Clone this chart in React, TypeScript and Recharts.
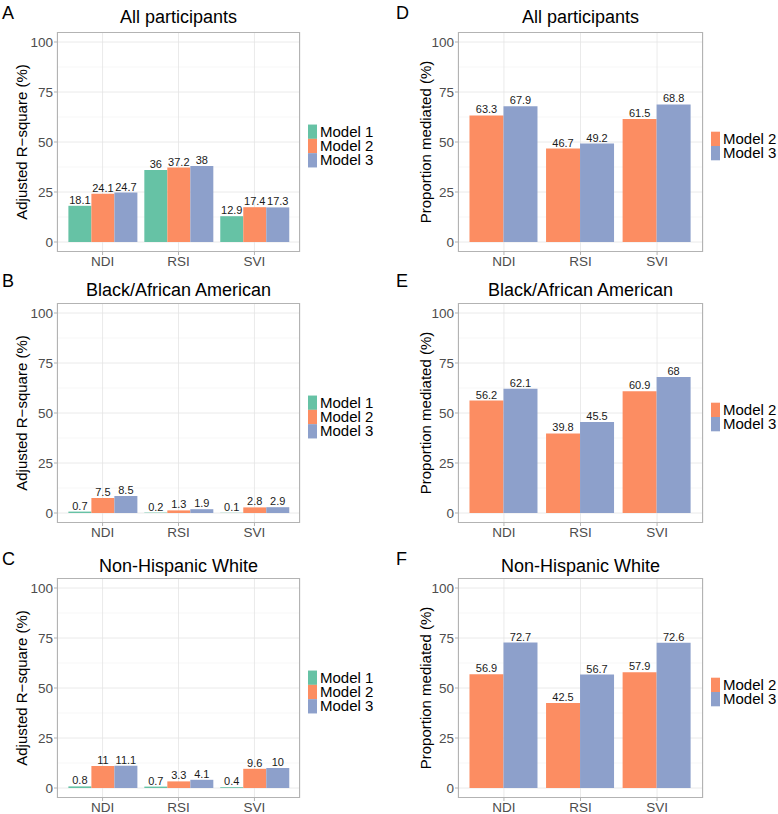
import React from 'react';
import { BarChart, Bar, XAxis, YAxis, CartesianGrid, LabelList } from 'recharts';

const categories = ['NDI', 'RSI', 'SVI'];

// Adjusted R-square (%)
const allModel1 = [18.1, 36, 12.9];
const allModel2 = [24.1, 37.2, 17.4];
const allModel3 = [24.7, 38, 17.3];

const blackModel1 = [0.7, 0.2, 0.1];
const blackModel2 = [7.5, 1.3, 2.8];
const blackModel3 = [8.5, 1.9, 2.9];

const whiteModel1 = [0.8, 0.7, 0.4];
const whiteModel2 = [11, 3.3, 9.6];
const whiteModel3 = [11.1, 4.1, 10];

// Proportion mediated (%)
const allMedModel2 = [63.3, 46.7, 61.5];
const allMedModel3 = [67.9, 49.2, 68.8];

const blackMedModel2 = [56.2, 39.8, 60.9];
const blackMedModel3 = [62.1, 45.5, 68];

const whiteMedModel2 = [56.9, 42.5, 57.9];
const whiteMedModel3 = [72.7, 56.7, 72.6];

const majorTicks = [0, 25, 50, 75, 100];
const minorTicks = [12.5, 37.5, 62.5, 87.5];

const models = [
  { key: 'm1', name: 'Model 1', color: '#66C2A5' },
  { key: 'm2', name: 'Model 2', color: '#FC8D62' },
  { key: 'm3', name: 'Model 3', color: '#8DA0CB' },
];

const FONT = '"Liberation Sans", Arial, Helvetica, sans-serif';
const PLOT_H = 220;
const PANEL_W = 389;

const makeRows = (m1: number[] | null, m2: number[], m3: number[]) =>
  categories.map((cat, i) => ({
    cat,
    ...(m1 ? { m1: m1[i] } : {}),
    m2: m2[i],
    m3: m3[i],
  }));

const columns = [
  { left: 0, axisWidth: 57, rightMargin: 89, labelOffset: 22, letterX: 2, yLabel: 'Adjusted R\u2212square (%)' },
  { left: 389, axisWidth: 69, rightMargin: 75, labelOffset: 37, letterX: 396, yLabel: 'Proportion mediated (%)' },
];

const rowsLayout = [
  { top: 0, height: 270, titleY: 23, letterY: 19 },
  { top: 271, height: 271, titleY: 296, letterY: 287 },
  { top: 546, height: 268, titleY: 572, letterY: 565 },
];

const panels = [
  { col: 0, row: 0, letter: 'A', title: 'All participants', data: makeRows(allModel1, allModel2, allModel3), keys: ['m1', 'm2', 'm3'] },
  { col: 0, row: 1, letter: 'B', title: 'Black/African American', data: makeRows(blackModel1, blackModel2, blackModel3), keys: ['m1', 'm2', 'm3'] },
  { col: 0, row: 2, letter: 'C', title: 'Non-Hispanic White', data: makeRows(whiteModel1, whiteModel2, whiteModel3), keys: ['m1', 'm2', 'm3'] },
  { col: 1, row: 0, letter: 'D', title: 'All participants', data: makeRows(null, allMedModel2, allMedModel3), keys: ['m2', 'm3'] },
  { col: 1, row: 1, letter: 'E', title: 'Black/African American', data: makeRows(null, blackMedModel2, blackMedModel3), keys: ['m2', 'm3'] },
  { col: 1, row: 2, letter: 'F', title: 'Non-Hispanic White', data: makeRows(null, whiteMedModel2, whiteMedModel3), keys: ['m2', 'm3'] },
];

const Panel = ({ panel }: { panel: typeof panels[number] }) => {
  const col = columns[panel.col];
  const row = rowsLayout[panel.row];
  const plotW = PANEL_W - col.axisWidth - col.rightMargin;
  const pad = (plotW * 0.1) / 3.2;
  return (
    <div style={{ position: 'absolute', left: col.left, top: row.top }}>
      <BarChart
        width={PANEL_W}
        height={row.height}
        data={panel.data}
        margin={{ top: 32, right: col.rightMargin, left: 0, bottom: 0 }}
        barCategoryGap="5%"
        barGap={0}
      >
        <CartesianGrid horizontalValues={minorTicks} vertical={false} stroke="#F3F3F3" strokeWidth={0.7} />
        <CartesianGrid horizontalValues={majorTicks} stroke="#E4E4E4" strokeWidth={0.8} />
        <XAxis
          dataKey="cat"
          height={row.height - 32 - PLOT_H}
          axisLine={false}
          tickLine={{ stroke: '#B3B3B3' }}
          tickSize={3}
          tickMargin={1}
          interval={0}
          padding={{ left: pad, right: pad }}
          tick={{ fill: '#4D4D4D', fontSize: 13.5 }}
        />
        <YAxis
          type="number"
          domain={[-5, 105]}
          ticks={majorTicks}
          width={col.axisWidth}
          axisLine={false}
          tickLine={{ stroke: '#B3B3B3' }}
          tickSize={3}
          tickMargin={1}
          tick={{ fill: '#4D4D4D', fontSize: 13.5 }}
          label={{
            value: col.yLabel,
            angle: -90,
            position: 'insideLeft',
            offset: col.labelOffset,
            style: { textAnchor: 'middle', fontSize: 15, fill: '#000' },
          }}
        />
        {panel.keys.map((k) => {
          const m = models.find((x) => x.key === k)!;
          return (
            <Bar key={k} dataKey={k} name={m.name} fill={m.color} isAnimationActive={false}>
              <LabelList dataKey={k} position="top" offset={2} fontSize={11} fill="#1A1A1A" />
            </Bar>
          );
        })}
      </BarChart>
    </div>
  );
};

const Overlay = () => (
  <svg
    width={778}
    height={814}
    style={{ position: 'absolute', left: 0, top: 0, pointerEvents: 'none', fontFamily: FONT }}
  >
    {panels.map((p) => {
      const col = columns[p.col];
      const row = rowsLayout[p.row];
      const plotX = col.left + col.axisWidth;
      const plotY = row.top + 32;
      const plotW = PANEL_W - col.axisWidth - col.rightMargin;
      const keyX = plotX + plotW + 8;
      const rowH = 14.3;
      const legendTop = plotY + 114 - (p.keys.length * rowH) / 2;
      return (
        <g key={p.letter}>
          <rect x={plotX + 0.5} y={plotY + 0.5} width={plotW - 1} height={PLOT_H - 1} fill="none" stroke="#B3B3B3" strokeWidth={1} />
          <text x={col.letterX} y={row.letterY} fontSize={18} fill="#000">{p.letter}</text>
          <text x={plotX + plotW / 2} y={row.titleY} fontSize={18} fill="#000" textAnchor="middle">{p.title}</text>
          {p.keys.map((k, i) => {
            const m = models.find((x) => x.key === k)!;
            const y = legendTop + i * rowH;
            return (
              <g key={k}>
                <rect x={keyX} y={y} width={9} height={rowH} fill={m.color} />
                <text x={keyX + 12} y={y + 12} fontSize={15} fill="#000">{m.name}</text>
              </g>
            );
          })}
        </g>
      );
    })}
  </svg>
);

const App = () => (
  <div style={{ position: 'absolute', left: 0, top: 0, width: 778, height: 814, background: '#fff', fontFamily: FONT, overflow: 'hidden' }}>
    {panels.map((p) => (
      <Panel key={p.letter} panel={p} />
    ))}
    <Overlay />
  </div>
);

export default App;
